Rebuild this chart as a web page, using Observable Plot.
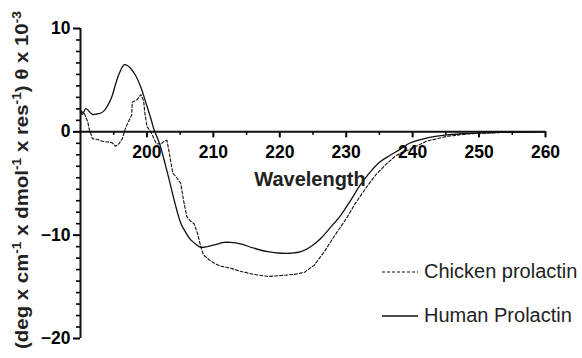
<!DOCTYPE html>
<html>
<head>
<meta charset="utf-8">
<script src="https://cdn.jsdelivr.net/npm/d3@7"></script>
<script src="https://cdn.jsdelivr.net/npm/@observablehq/plot@0.6"></script>
<style>
  html, body { margin: 0; padding: 0; background: #fff; }
  svg { display: block; }
</style>
</head>
<body>
<div id="chart"></div>
<script>
// Human prolactin (solid)
const humanWavelength = [190.0, 190.3, 190.8, 191.8, 192.6, 193.1, 193.6, 194.6, 195.3, 195.8, 196.6, 197.1, 197.6, 198.3, 199.1, 199.8, 200.6, 201.1, 201.9, 202.6, 203.1,
  205.1, 205.9, 206.6, 207.4, 208.1, 209.1, 210.1, 211.6, 212.6, 214.1, 216.1, 218.2, 220.2, 221.7, 223.2, 224.7, 226.2, 227.7, 229.2, 230.7, 232.1, 233.6, 235.1, 236.6, 238.1,
  239.6, 242.1, 245.2, 248.7, 253.2, 260.0];
const humanValue = [2.07, 1.69, 2.24, 1.69, 1.75, 1.82, 2.07, 3.2, 4.65, 5.6, 6.5, 6.4, 6.1, 5.45, 4.3, 2.9, 1.27, 0.15, -1.14, -2.75, -4.0,
  -8.85, -9.8, -10.46, -10.9, -11.17, -11.1, -10.95, -10.7, -10.7, -10.85, -11.26, -11.6, -11.75, -11.75, -11.6, -11.1, -10.3, -9.2, -8.05, -6.6, -5.16, -3.9, -2.9, -2.27, -1.7,
  -1.08, -0.6, -0.3, -0.15, -0.05, 0];

// Chicken prolactin (dashed)
const chickenWavelength = [190.0, 190.6, 191.1, 191.3, 191.8, 192.6, 193.3, 194.1, 194.8, 195.3, 195.8, 196.3, 196.8, 197.3, 197.7, 197.8, 198.5, 199.1, 199.5, 199.7, 200.0, 200.6, 201.4, 202.1, 202.6, 203.0, 203.2, 203.9, 204.4,
  205.1, 205.5, 206.0, 206.5, 207.1, 207.6, 208.1, 208.5, 209.4, 210.1, 211.1, 212.6, 214.1, 216.1, 218.2, 220.2, 222.2, 223.7, 225.2, 226.7, 228.2, 229.9, 231.4, 232.9, 234.4, 235.9, 237.3, 238.3,
  239.6, 242.1, 245.2, 248.7, 253.2, 260.0];
const chickenValue = [2.07, 1.75, 0.95, 0.3, -0.66, -0.75, -0.92, -0.98, -1.08, -1.4, -1.14, -0.66, 0.4, 1.1, 1.6, 2.87, 3.1, 3.6, 3.0, 1.75, 0.53, -0.02, -1.14, -1.2, -0.89, -0.82, -1.47, -4.0, -4.36,
  -5.0, -6.6, -8.2, -8.6, -8.9, -9.8, -11.1, -11.9, -12.4, -12.7, -13.0, -13.2, -13.5, -13.8, -14.0, -13.9, -13.8, -13.6, -12.9, -11.6, -10.1, -8.5, -6.9, -5.5, -4.2, -3.2, -2.4, -2.0,
  -1.7, -0.9, -0.43, -0.18, -0.07, 0];

// Axis ticks
const xTickLabels = [200, 210, 220, 230, 240, 250, 260];
const xMinorTicks = [195, 205, 215, 225, 235, 245, 255];
const yTickLabels = [10, 0, -10, -20];
const yMinorTicks = [8.889, 7.778, 6.667, 5.556, 4.444, 3.333, 2.222, 1.111,
  -1.111, -2.222, -3.333, -4.444, -5.556, -6.667, -7.778, -8.889,
  -11.111, -12.222, -13.333, -14.444, -15.556, -16.667, -17.778, -18.889];

const seriesNames = ["Chicken prolactin", "Human Prolactin"];

const human = humanWavelength.map((w, i) => ({w, v: humanValue[i]}));
const chicken = chickenWavelength.map((w, i) => ({w, v: chickenValue[i]}));

const W = 582, H = 358;
const mt = 28, mb = 20, ml = 80, mr = 37;
const yDomain = [-20, 10];
const frameH = H - mt - mb;
const xAxisShift = -((0 - yDomain[0]) / (yDomain[1] - yDomain[0])) * frameH;

const font = "'Liberation Sans', Arial, Helvetica, sans-serif";

const chart = Plot.plot({
  width: W,
  height: H,
  marginTop: mt,
  marginBottom: mb,
  marginLeft: ml,
  marginRight: mr,
  style: {fontFamily: font, background: "#fff", color: "#000"},
  x: {domain: [190, 260], label: null},
  y: {domain: yDomain, label: null},
  marks: [
    Plot.axisY({ticks: yMinorTicks, tickSize: 4, tickFormat: () => "", strokeWidth: 1.6, label: null}),
    Plot.axisY({ticks: yTickLabels, tickSize: 7, tickPadding: 3, strokeWidth: 2, fontSize: 17.5, fontWeight: "bold", label: null}),
    Plot.axisX({anchor: "bottom", dy: xAxisShift, ticks: xMinorTicks, tickSize: 3.5, tickFormat: () => "", strokeWidth: 1.6, label: null}),
    Plot.axisX({anchor: "bottom", dy: xAxisShift, ticks: xTickLabels, tickSize: 6, tickPadding: 8, strokeWidth: 2, fontSize: 17.5, fontWeight: "bold", label: null}),
    Plot.ruleX([190], {y1: -20, y2: 10, strokeWidth: 2, stroke: "#111"}),
    Plot.ruleY([0], {x1: 190, x2: 260, strokeWidth: 2, stroke: "#111"}),
    Plot.line(chicken, {x: "w", y: "v", stroke: "#111", strokeWidth: 1.1, strokeDasharray: "3,2", curve: "linear"}),
    Plot.line(human, {x: "w", y: "v", stroke: "#111", strokeWidth: 1.3, curve: "catmull-rom"})
  ]
});

const svg = d3.select(chart);

// x axis title
svg.append("text")
  .attr("x", 310).attr("y", 186)
  .attr("text-anchor", "middle")
  .attr("font-family", font).attr("font-weight", "bold").attr("font-size", 20)
  .attr("fill", "#222")
  .text("Wavelength");

// y axis title with superscripts
const yt = svg.append("text")
  .attr("transform", "translate(28,180) rotate(-90)")
  .attr("text-anchor", "middle")
  .attr("font-family", font).attr("font-weight", "bold").attr("font-size", 18.5)
  .attr("textLength", 338).attr("lengthAdjust", "spacingAndGlyphs")
  .attr("fill", "#222");
const parts = [["(deg x cm", false], ["-1", true], [" x dmol", false], ["-1", true], [" x res", false], ["-1", true], [") θ x 10", false], ["-3", true]];
parts.forEach(([t, sup], i) => {
  const ts = yt.append("tspan").text(t);
  if (sup) ts.attr("font-size", 12.5).attr("dy", "-7");
  else if (i > 0) ts.attr("dy", "7");
});

// legend
const legend = svg.append("g").attr("font-family", font).attr("font-size", 20).attr("fill", "#222");
const legendRows = [
  {name: seriesNames[0], dash: "3,2", y: 272},
  {name: seriesNames[1], dash: null, y: 316}
];
legendRows.forEach(r => {
  legend.append("line")
    .attr("x1", 382).attr("x2", 418).attr("y1", r.y).attr("y2", r.y)
    .attr("stroke", "#111").attr("stroke-width", r.dash ? 1.1 : 1.3)
    .attr("stroke-dasharray", r.dash);
  legend.append("text")
    .attr("x", 424).attr("y", r.y + 6)
    .attr("text-anchor", "start")
    .text(r.name);
});

document.getElementById("chart").appendChild(chart);
</script>
</body>
</html>
